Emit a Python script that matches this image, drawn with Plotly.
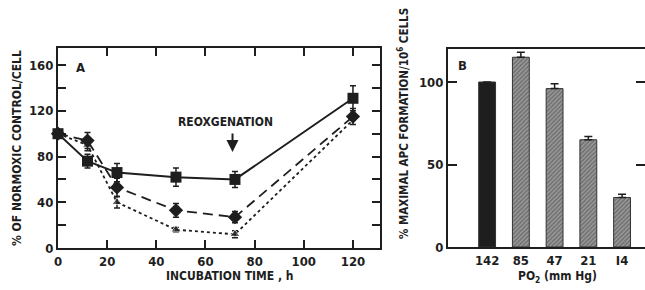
import plotly.graph_objects as go

# Panel A data
time_h = [0, 12, 24, 48, 72, 120]
sq_vals = [100, 76, 66, 62, 60, 131]
sq_err = [0, 6, 8, 8, 7, 11]
dia_vals = [100, 94, 53, 33, 27, 115]
dia_err = [0, 7, 8, 6, 5, 7]
tri_vals = [100, 90, 40, 16, 12, 112]
tri_err = [0, 5, 5, 2, 3, 0]

# Panel B data
po2_labels = ["142", "85", "47", "21", "I4"]
apc_vals = [100, 115, 96, 65, 30]
apc_err = [0, 3, 3, 2, 2]

INK = "#1e1e1e"
FONT = "DejaVu Sans Condensed, DejaVu Sans, Liberation Sans, sans-serif"

fig = go.Figure()

common_err = dict(type="data", visible=True, color=INK, thickness=1.5, width=3)

fig.add_trace(go.Scatter(
    x=time_h, y=tri_vals, mode="lines+markers",
    line=dict(color=INK, width=1.8, dash="3px,3px"),
    marker=dict(symbol="triangle-up", size=[9, 9, 9, 9, 9, 0], color=INK),
    error_y=dict(array=tri_err, **common_err),
    xaxis="x", yaxis="y", cliponaxis=False, showlegend=False))
fig.add_trace(go.Scatter(
    x=time_h, y=dia_vals, mode="lines+markers",
    line=dict(color=INK, width=1.8, dash="10px,6px"),
    marker=dict(symbol="diamond", size=11, color=INK),
    error_y=dict(array=dia_err, **common_err),
    xaxis="x", yaxis="y", cliponaxis=False, showlegend=False))
fig.add_trace(go.Scatter(
    x=time_h, y=sq_vals, mode="lines+markers",
    line=dict(color=INK, width=2),
    marker=dict(symbol="square", size=11, color=INK),
    error_y=dict(array=sq_err, **common_err),
    xaxis="x", yaxis="y", cliponaxis=False, showlegend=False))

# Panel B bars
fig.add_trace(go.Bar(
    x=list(range(len(po2_labels))), y=apc_vals, width=0.5,
    marker=dict(
        color=[INK] + ["#9a9a9a"] * 4,
        line=dict(color="#333", width=1),
        pattern=dict(shape=["", "/", "/", "/", "/"], fgcolor="#2a2a2a",
                     bgcolor="#c4c4c4", size=3, solidity=0.5)),
    error_y=dict(type="data", array=apc_err, arrayminus=[0]*5, symmetric=False,
                 color=INK, thickness=1.5, width=4),
    xaxis="x2", yaxis="y2", showlegend=False))

tickfont = dict(family=FONT, size=13, color=INK, weight="bold")

fig.update_layout(
    width=645, height=290,
    margin=dict(l=0, r=0, t=0, b=0),
    paper_bgcolor="white", plot_bgcolor="white",
    font=dict(family=FONT, color=INK),
    hovermode=False,
    xaxis=dict(domain=[58/645, 380/645], range=[0, 131],
               tickvals=[0, 20, 40, 60, 80, 100, 120],
               ticks="inside", ticklen=8, tickwidth=2, tickcolor=INK,
               showline=True, linecolor=INK, linewidth=2, mirror="ticks",
               showgrid=False, zeroline=False, tickfont=tickfont,
               anchor="y", automargin=False),
    yaxis=dict(domain=[1-248/290, 1-48/290], range=[0, 175],
               tickvals=[0, 20, 40, 60, 80, 100, 120, 140, 160],
               ticktext=["0", "", "40", "", "80", "", "120", "", "160"],
               ticks="inside", ticklen=8, tickwidth=2, tickcolor=INK,
               showline=True, linecolor=INK, linewidth=2, mirror="ticks",
               showgrid=False, zeroline=False, tickfont=tickfont,
               anchor="x", automargin=False),
    xaxis2=dict(domain=[448/645, 1.0], range=[-1.16, 4.68],
                tickvals=list(range(len(po2_labels))), ticktext=po2_labels,
                ticks="", showline=True, linecolor=INK, linewidth=2,
                mirror=True, showgrid=False, zeroline=False,
                tickfont=tickfont, anchor="y2", automargin=False),
    yaxis2=dict(domain=[1-247/290, 1-49/290], range=[0, 120],
                tickvals=[0, 50, 100],
                ticks="inside", ticklen=9, tickwidth=2, tickcolor=INK,
                showline=True, linecolor=INK, linewidth=2, mirror="ticks",
                showgrid=False, zeroline=False, tickfont=tickfont,
                anchor="x2", automargin=False),
)

ann_font = dict(family=FONT, size=12, color=INK, weight="bold")
C = dict(xanchor="center", yanchor="middle", showarrow=False)
fig.add_annotation(x=9, y=158, xref="x", yref="y", text="A", **C,
                   font=dict(family=FONT, size=13, color=INK, weight="bold"))
fig.add_annotation(x=-0.72, y=110, xref="x2", yref="y2", text="B", **C,
                   font=dict(family=FONT, size=13, color=INK, weight="bold"))
fig.add_annotation(x=68, y=110, xref="x", yref="y", text="REOXGENATION",
                   **C, font=ann_font)
fig.add_annotation(x=71, y=84, xref="x", yref="y", text="", showarrow=True,
                   ax=0, ay=-20, arrowhead=2, arrowsize=1.2, arrowwidth=2,
                   arrowcolor=INK)
fig.add_annotation(x=17/645, y=1-148/290, xref="paper", yref="paper",
                   text="% OF NORMOXIC CONTROL/CELL", textangle=-90,
                   **C, font=ann_font)
fig.add_annotation(x=230/645, y=1-276/290, xref="paper", yref="paper",
                   text="INCUBATION TIME , h", **C, font=ann_font)
fig.add_annotation(x=404/645, y=1-124/290, xref="paper", yref="paper",
                   text="% MAXIMAL APC FORMATION/10<sup>6</sup> CELLS", textangle=-90,
                   **C, font=dict(family=FONT, size=11.5, color=INK, weight="bold"))
fig.add_annotation(x=557/645, y=1-277/290, xref="paper", yref="paper",
                   text="PO<sub>2</sub> (mm Hg)", **C, font=ann_font)

fig.write_html("out.html", config={"displayModeBar": False},
               post_script="document.body.style.margin='0';document.body.style.overflow='hidden';")
